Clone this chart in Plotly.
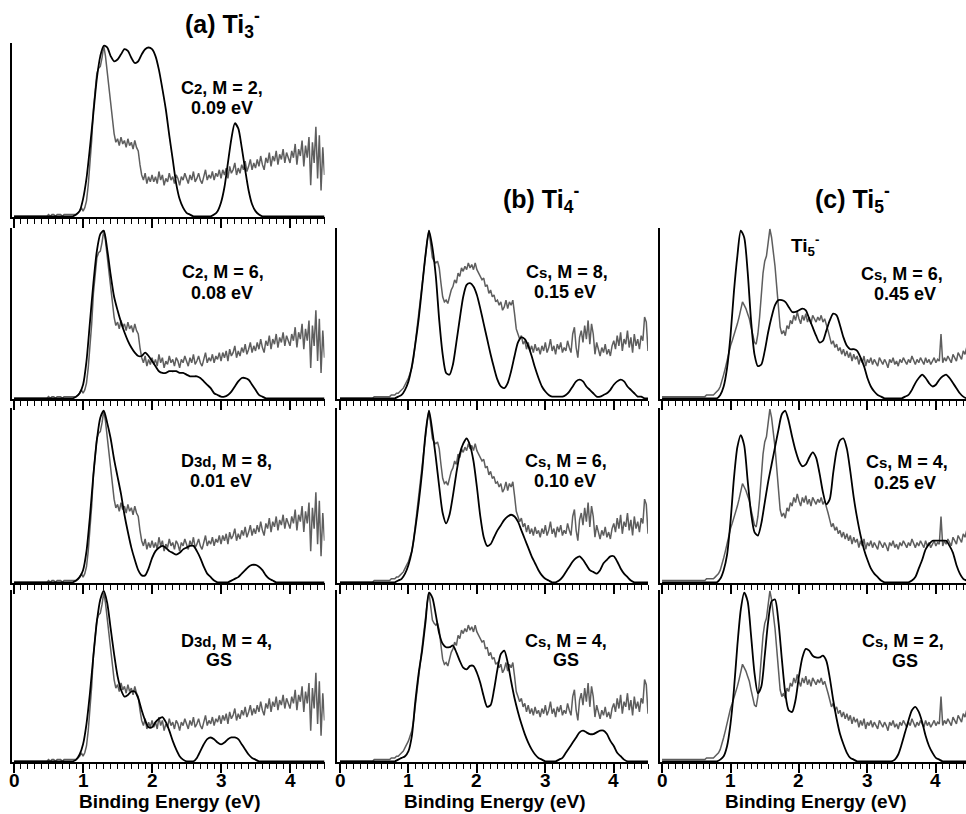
import plotly.graph_objects as go

# ---------------- DATA ----------------
# Binding energy grids (eV)
E_THEORY = [round(0.05 * i, 2) for i in range(91)]      # 0.00 ... 4.50
E_EXP = [round(0.025 * i, 3) for i in range(181)]       # 0.000 ... 4.500

# Experimental photoelectron spectra (relative intensity x100)
EXP_TI3 = [
    0,0,0,0,0,0,0,0,0,0,0,0,0,0,0,0,0,0,0,0,
    1,0,1,1,0,1,1,1,0,1,1,1,1,1,1,1,1,2,3,5,
    3,5,9,18,30,44,62,74,83,86,87,92,99,93,84,73,64,56,48,43,
    45,41,46,42,44,40,45,41,43,39,44,40,38,30,24,21,25,19,23,20,
    24,20,23,19,26,21,24,18,22,20,25,21,23,19,24,22,18,23,21,25,
    22,19,24,21,26,20,22,25,21,19,23,27,21,24,22,26,21,25,23,27,
    22,27,24,28,22,29,25,27,31,24,28,25,30,27,32,26,29,33,27,31,
    28,33,29,35,30,27,34,31,37,29,35,32,38,30,36,33,39,31,37,34,
    31,38,34,42,30,39,35,44,29,41,34,46,18,43,31,52,22,47,15,40,
    24,
]
EXP_TI4 = [
    0,0,0,0,0,0,0,0,0,0,0,0,0,0,0,0,0,0,0,0,
    1,1,1,1,1,1,1,1,1,1,2,2,2,3,3,4,5,6,8,10,
    12,15,18,24,33,42,51,60,69,78,86,93,99,90,83,81,80,81,77,68,
    60,57,58,56,60,64,66,70,68,74,72,77,75,78,76,80,77,79,76,80,
    76,74,72,70,71,66,67,62,64,60,61,57,58,55,57,52,54,58,53,57,
    55,58,50,41,38,35,37,32,34,29,33,28,31,27,32,28,30,26,31,28,
    33,27,30,35,28,31,26,32,29,33,27,30,28,34,30,27,38,42,30,24,
    36,40,33,43,35,46,32,44,38,26,33,28,25,30,27,32,26,29,25,31,
    34,29,37,31,39,28,35,32,40,30,36,27,38,31,35,29,37,34,48,45,
    28,
]
EXP_TI5 = [
    1,1,1,1,1,1,1,1,1,1,1,1,1,1,1,1,1,1,1,1,
    1,1,1,1,1,1,2,2,2,2,2,3,4,5,7,10,14,18,23,27,
    31,34,37,40,44,48,53,57,55,53,50,47,42,37,33,32,38,48,62,74,
    81,84,92,100,95,88,78,66,52,42,38,40,37,43,41,46,44,49,46,51,
    47,44,49,46,50,45,48,44,49,47,45,48,46,49,45,47,44,40,36,32,
    34,30,32,28,30,26,29,25,28,24,27,22,26,23,25,20,24,21,25,19,
    23,21,24,20,23,21,19,24,22,20,23,21,18,23,21,24,20,22,19,23,
    21,24,22,20,23,21,25,22,20,23,21,24,22,20,24,21,23,20,22,24,
    21,23,22,38,21,24,22,25,23,21,26,24,22,27,25,23,28,26,30,27,
    29,
]

# Simulated spectra (relative intensity x100)
TH_A1 = [
    0,0,0,0,0,0,0,0,0,0,0,0,0,0,0,0,0,0,
    1,3,10,22,40,60,80,93,99,98,93,90,91,94,97,96,92,89,90,94,97,98,97,93,85,74,62,47,33,19,10,5,2,1,
    0,0,0,0,0,0,
    1,3,8,17,31,45,54,51,40,27,15,7,3,1,
    0,0,0,0,0,0,0,0,0,0,0,0,0,0,0,0,0,0,0,
]
TH_A2 = [
    0,0,0,0,0,0,0,0,0,0,0,0,0,0,0,0,0,
    0,1,3,8,22,45,68,87,97,99,88,73,60,52,45,39,34,30,27,25,25,27,25,22,19,16,15,15,16,16,16,15,15,14,13,13,13,12,10,8,6,3,2,1,1,2,4,7,10,12,12,11,8,5,2,1,
    0,0,0,0,0,0,0,0,0,0,0,0,0,0,0,0,0,0,
]
TH_A3 = [
    0,0,0,0,0,0,0,0,0,0,0,0,0,0,0,0,0,
    0,1,3,7,18,38,62,82,95,99,92,83,71,61,51,39,29,20,13,7,4,4,8,14,18,20,21,20,18,17,16,17,19,20,21,21,18,14,9,5,3,1,
    0,0,0,0,
    1,2,3,5,7,9,10,10,9,7,4,2,1,
    0,0,0,0,0,0,0,0,0,0,0,0,0,0,0,
]
TH_A4 = [
    0,0,0,0,0,0,0,0,0,0,0,0,0,0,0,0,0,
    0,1,4,10,22,40,62,82,95,100,93,78,63,50,42,38,39,41,41,37,30,24,20,20,23,25,26,23,18,12,7,3,1,
    0,0,0,
    2,6,10,13,14,13,11,10,11,13,14,14,13,10,7,4,2,1,
    0,0,0,0,0,0,0,0,0,0,0,0,0,0,0,0,0,0,0,0,
]
TH_B2 = [
    0,0,0,0,0,0,0,0,0,0,0,0,0,0,0,0,
    0,1,2,5,10,19,32,47,66,85,99,89,72,46,26,15,14,20,33,47,60,67,68,66,61,53,44,35,26,18,11,7,6,9,16,25,33,36,35,31,25,18,12,7,4,2,1,1,1,1,2,4,7,10,11,10,7,5,3,1,1,2,3,5,8,10,11,10,7,5,3,1,1,
    0,0,
]
TH_B3 = [
    0,0,0,0,0,0,0,0,0,0,0,0,0,0,0,0,
    0,1,2,5,10,18,31,46,64,86,99,87,72,55,40,34,39,50,63,74,80,83,79,70,55,38,26,21,22,26,30,33,36,38,39,38,35,30,25,20,15,11,7,4,2,1,0,0,1,3,6,9,12,14,15,13,10,7,6,5,7,11,13,15,15,12,8,5,3,1,0,
    0,0,0,0,
]
TH_B4 = [
    0,0,0,0,0,0,0,0,0,0,0,0,0,0,0,0,
    0,1,2,3,6,15,35,52,65,82,99,96,86,75,69,67,67,68,64,59,55,54,56,56,52,46,38,32,33,42,54,63,65,58,47,37,29,22,16,11,7,4,2,1,
    0,0,0,0,
    1,2,5,8,11,14,17,18,17,16,16,17,18,18,16,12,9,5,3,1,0,
    0,0,0,0,0,0,
]
TH_C2 = [
    0,0,0,0,0,0,0,0,0,0,0,0,0,0,0,0,
    0,2,7,18,37,63,84,99,95,75,46,26,19,20,28,39,48,55,58,58,57,54,51,51,52,53,52,47,42,37,33,34,40,46,50,49,43,36,31,29,29,28,24,19,12,7,4,2,1,
    0,0,0,0,0,0,
    1,2,5,9,12,14,12,9,7,8,11,13,14,12,9,6,3,1,0,
    0,
]
TH_C3 = [
    0,0,0,0,0,0,0,0,0,0,0,0,0,0,0,0,
    0,2,7,16,35,60,78,85,79,59,40,29,27,34,46,58,68,78,88,97,99,93,84,76,70,67,68,72,75,72,63,52,45,48,63,76,82,83,77,64,49,37,27,19,13,8,5,3,1,
    0,0,0,0,0,0,0,0,
    1,3,8,13,19,22,24,24,24,24,24,21,17,10,5,2,1,0,
]
TH_C4 = [
    0,0,0,0,0,0,0,0,0,0,0,0,0,0,0,0,
    0,1,3,9,22,42,68,89,99,94,74,52,40,44,62,82,94,95,82,60,40,30,29,36,50,61,66,65,62,61,61,62,59,49,36,25,16,10,5,2,1,
    0,0,0,0,0,0,0,0,0,0,0,
    1,4,10,17,24,30,32,29,23,15,9,5,2,1,
    0,0,0,0,0,0,0,0,0,
]

# Panel texts
TITLES = ["(a) Ti<sub>3</sub><sup>-</sup>", "(b) Ti<sub>4</sub><sup>-</sup>", "(c) Ti<sub>5</sub><sup>-</sup>"]
S = "<span style='font-size:15px'>{}</span>"
LABELS = [
    ("C" + S.format("2") + ", M = 2,", "0.09 eV"),
    ("C" + S.format("2") + ", M = 6,", "0.08 eV"),
    ("D" + S.format("3d") + ", M = 8,", "0.01 eV"),
    ("D" + S.format("3d") + ", M = 4,", "GS"),
    ("C" + S.format("s") + ", M = 8,", "0.15 eV"),
    ("C" + S.format("s") + ", M = 6,", "0.10 eV"),
    ("C" + S.format("s") + ", M = 4,", "GS"),
    ("C" + S.format("s") + ", M = 6,", "0.45 eV"),
    ("C" + S.format("s") + ", M = 4,", "0.25 eV"),
    ("C" + S.format("s") + ", M = 2,", "GS"),
]
XLABEL = "Binding Energy (eV)"
TICKVALS = [0, 1, 2, 3, 4]
TICKTEXT = ["0", "1", "2", "3", "4"]

for arr in (EXP_TI3, EXP_TI4, EXP_TI5):
    assert len(arr) == 181, len(arr)
for arr in (TH_A1, TH_A2, TH_A3, TH_A4, TH_B2, TH_B3, TH_B4, TH_C2, TH_C3, TH_C4):
    assert len(arr) == 91, len(arr)

# ---------------- LAYOUT ----------------
W, H = 966, 814
FONT = "Liberation Sans, Arial, Helvetica, sans-serif"
GRAY = "#5e5e5e"

COLS = {  # pixel domain, x range
    "a": ((12, 324.5), (-0.03, 4.5)),
    "b": ((337, 648), (-0.044, 4.5)),
    "c": ((660, 966), (-0.03, 4.44)),
}
ROWS = {1: (43, 217), 2: (228, 399), 3: (408, 583), 4: (590, 762)}

PANELS = [
    # col, row, experiment, theory, label line centers (x1,y1,x2,y2)
    ("a", 1, EXP_TI3, TH_A1, (222, 88, 222, 108)),
    ("a", 2, EXP_TI3, TH_A2, (223, 272, 222, 293)),
    ("a", 3, EXP_TI3, TH_A3, (226, 461, 221, 481)),
    ("a", 4, EXP_TI3, TH_A4, (226, 641, 219, 660)),
    ("b", 2, EXP_TI4, TH_B2, (567, 272, 565, 292)),
    ("b", 3, EXP_TI4, TH_B3, (566, 461, 565, 481)),
    ("b", 4, EXP_TI4, TH_B4, (566, 641, 566, 660)),
    ("c", 2, EXP_TI5, TH_C2, (902, 274, 905, 294)),
    ("c", 3, EXP_TI5, TH_C3, (907, 462, 905, 483)),
    ("c", 4, EXP_TI5, TH_C4, (903, 641, 905, 661)),
]

def px(x):
    return x / W

def py(y):
    return 1 - y / H

fig = go.Figure()
layout = dict(
    width=W, height=H, margin=dict(l=0, r=0, t=0, b=0),
    paper_bgcolor="white", plot_bgcolor="white", showlegend=False,
    font=dict(family=FONT, color="black"),
)
annotations = []

for i, (col, row, exp, th, lab) in enumerate(PANELS):
    n = i + 1
    xa = "x" if n == 1 else f"x{n}"
    ya = "y" if n == 1 else f"y{n}"
    (x0, x1), xr = COLS[col]
    y0, y1 = ROWS[row]
    fig.add_trace(go.Scatter(
        x=E_EXP, y=[v / 100 for v in exp], xaxis=xa, yaxis=ya, mode="lines",
        line=dict(color=GRAY, width=1.5), hoverinfo="skip"))
    fig.add_trace(go.Scatter(
        x=E_THEORY, y=[v / 100 for v in th], xaxis=xa, yaxis=ya, mode="lines",
        line=dict(color="black", width=1.8, shape="spline", smoothing=0.7), hoverinfo="skip"))
    xkey = "xaxis" if n == 1 else f"xaxis{n}"
    ykey = "yaxis" if n == 1 else f"yaxis{n}"
    layout[xkey] = dict(
        domain=[px(x0), px(x1)], range=list(xr), anchor=ya,
        showline=True, linecolor="black", linewidth=2,
        ticks="outside", tickcolor="black", ticklen=9, tickwidth=1.5,
        tickvals=TICKVALS, ticktext=TICKTEXT,
        minor=dict(ticks="outside", dtick=0.1, tick0=0, ticklen=5, tickwidth=1, tickcolor="black"),
        showticklabels=False,
        showgrid=False, zeroline=False, fixedrange=True,
    )
    layout[ykey] = dict(
        domain=[py(y1), py(y0)], range=[-0.004, 1.006], anchor=xa,
        showline=True, linecolor="black", linewidth=1.5,
        ticks="", showticklabels=False, showgrid=False, zeroline=False, fixedrange=True,
    )
    l1, l2 = LABELS[i]
    cx1, cy1, cx2, cy2 = lab
    for txt, cx, cy in ((l1, cx1, cy1), (l2, cx2, cy2)):
        annotations.append(dict(
            text=f"<b>{txt}</b>", x=px(cx), y=py(cy), xref="paper", yref="paper",
            xanchor="center", yanchor="middle", showarrow=False,
            font=dict(family=FONT, size=18, color="black")))
    # tick labels on the bottom row, placed on the axis' own scale
    if row == 4:
        for tv, tt in zip(TICKVALS, TICKTEXT):
            annotations.append(dict(
                text=f"<b>{tt}</b>", x=tv, xref=xa, y=py(780), yref="paper",
                xanchor="center", yanchor="middle", showarrow=False,
                font=dict(family=FONT, size=19, color="black")))

# Column titles
for txt, cx, cy in zip(TITLES, (222, 541, 852), (24, 199, 199)):
    annotations.append(dict(
        text=f"<b>{txt}</b>", x=px(cx), y=py(cy), xref="paper", yref="paper",
        xanchor="center", yanchor="middle", showarrow=False,
        font=dict(family=FONT, size=25, color="black")))

# Inner label in Ti5 panel
annotations.append(dict(
    text="<b>Ti<sub>5</sub><sup>-</sup></b>", x=px(805), y=py(245), xref="paper", yref="paper",
    xanchor="center", yanchor="middle", showarrow=False,
    font=dict(family=FONT, size=19, color="black")))

# x axis titles
for cx in (170, 495, 816):
    annotations.append(dict(
        text=f"<b>{XLABEL}</b>", x=px(cx), y=py(801), xref="paper", yref="paper",
        xanchor="center", yanchor="middle", showarrow=False,
        font=dict(family=FONT, size=19, color="black")))

layout["annotations"] = annotations
fig.update_layout(**layout)
fig.write_html("out.html", config={"displayModeBar": False},
               post_script="document.body.style.margin='0';")
